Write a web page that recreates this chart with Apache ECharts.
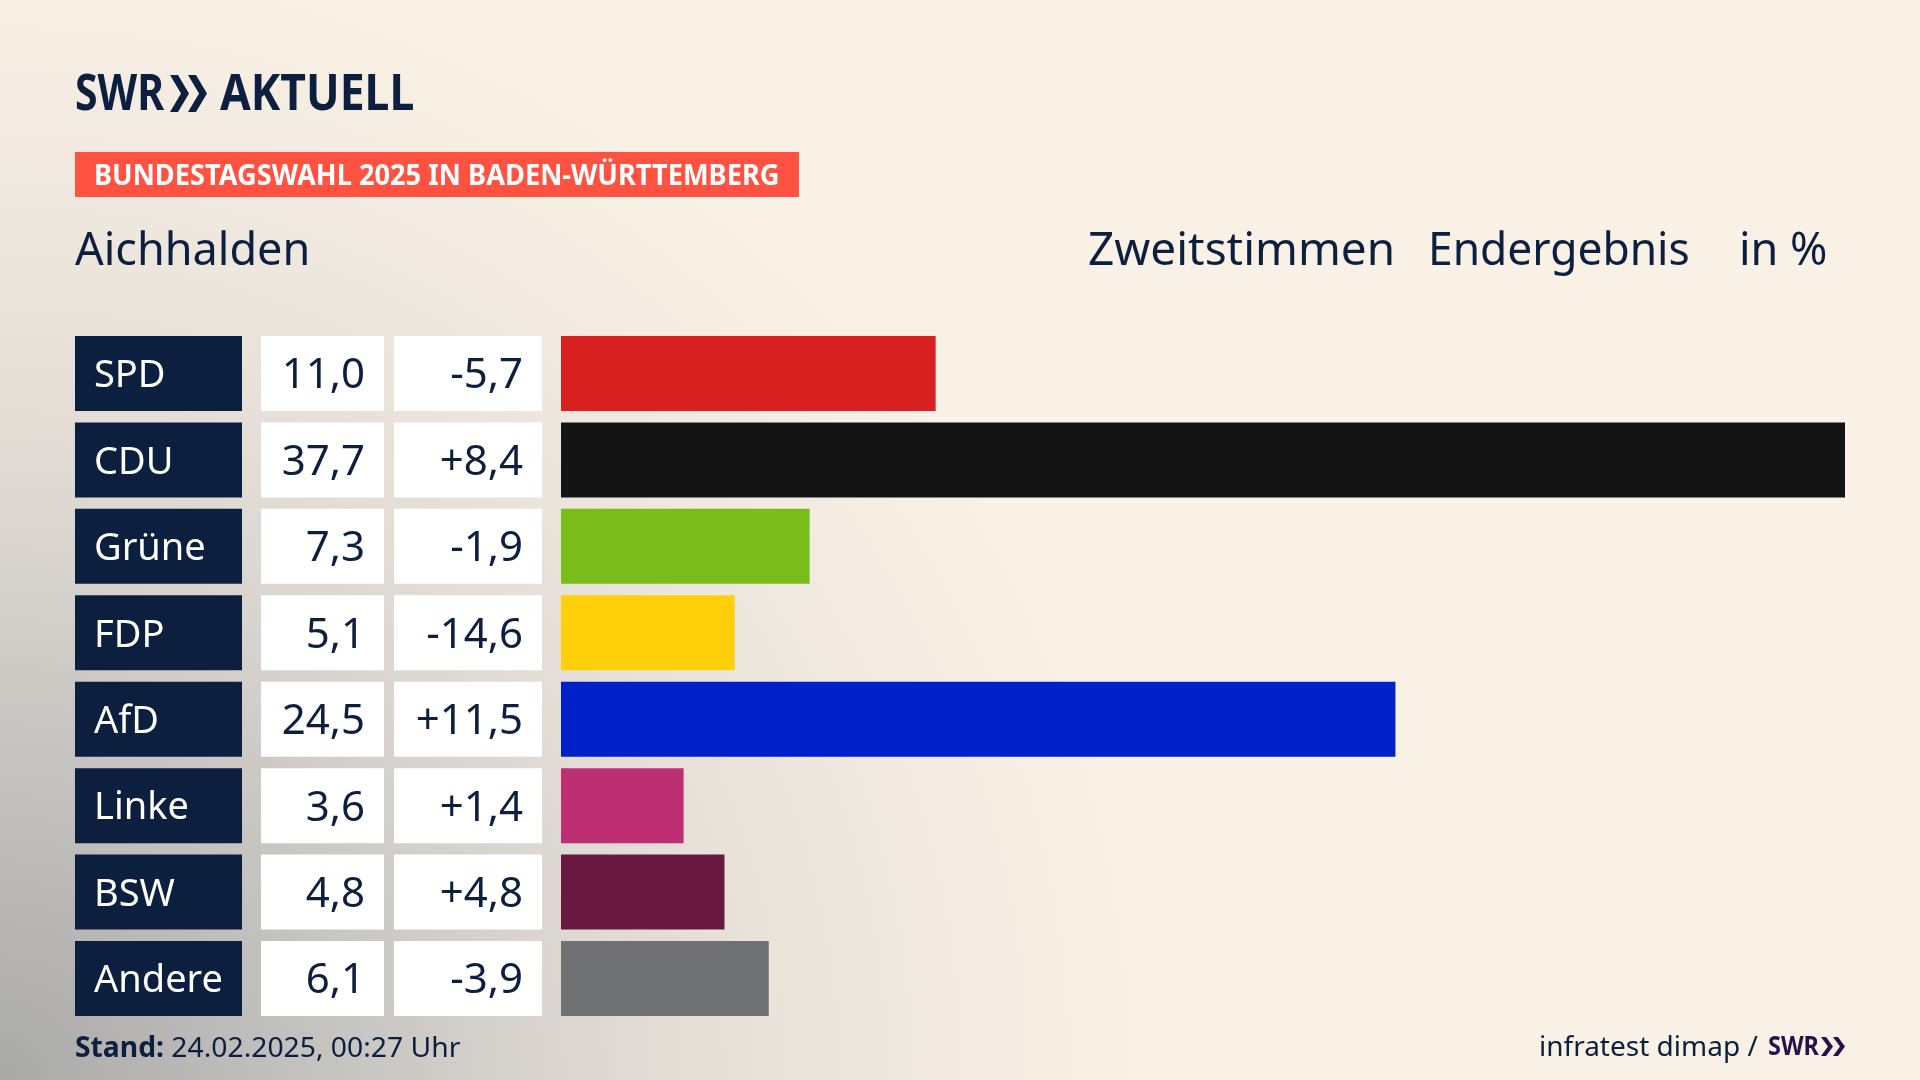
<!DOCTYPE html>
<html>
<head>
<meta charset="utf-8">
<title>Aichhalden</title>
<script src="https://cdn.jsdelivr.net/npm/echarts@6/dist/echarts.min.js"></script>
<style>
html,body{margin:0;padding:0;width:1920px;height:1080px;overflow:hidden;background:#faf1e6}
#chart{width:1920px;height:1080px;
background:radial-gradient(ellipse 1200px 1180px at 0 1080px,#a9a9a8 0%,#c6c4c1 28%,#dcd7d1 48%,#ece5dc 68%,#faf1e6 96%)}
</style>
</head>
<body>
<div id="chart"></div>
<script>
var parties = ['SPD','CDU','Grüne','FDP','AfD','Linke','BSW','Andere'];
var results = [11.0,37.7,7.3,5.1,24.5,3.6,4.8,6.1];
var changes = [-5.7,8.4,-1.9,-14.6,11.5,1.4,4.8,-3.9];
var barColors = ['#d7201f','#141414','#7abd1a','#ffcf0a','#0020c8','#bc2f73','#69193f','#707172'];

var NAVY = '#0c1f3f';
var FONT = '"Noto Sans"';

var chart = echarts.init(document.getElementById('chart'));

function fmt(v){ return v.toFixed(1).replace('.',','); }
function fmtChange(v){ return (v > 0 ? '+' : '') + fmt(v); }

//grid区域: 每行75高, 行距86.43
var gridTop = 330.3, gridHeight = 691.4;
function makeGrid(left,width){ return {left:left,width:width,top:gridTop,height:gridHeight}; }
function makeX(i,max){ return {gridIndex:i,type:'value',min:0,max:max,show:false}; }
function makeY(i){ return {gridIndex:i,type:'category',inverse:true,data:parties,show:false}; }

//左边三列格子
function cellSeries(i,color,textColor,pos,size,formatter){
	return {
		type:'bar',xAxisIndex:i,yAxisIndex:i,barWidth:75,silent:true,animation:false,
		data:parties.map(function(){return 1;}),
		itemStyle:{color:color},
		label:{show:true,position:pos,distance:19,offset:[0,3],color:textColor,fontFamily:FONT,fontSize:size,
			formatter:function(p){return formatter(p.dataIndex);}}
	};
}

//SWR的箭头
function chevron(x,y,w,h,color){
	var t = w*0.42;
	return {type:'polygon',shape:{points:[[x,y],[x+t,y],[x+w,y+h/2],[x+t,y+h],[x,y+h],[x+w-t,y+h/2]]},style:{fill:color}};
}
function headText(text,x,y,size,color,weight,scaleX){
	return {type:'text',x:x,y:y,scaleX:scaleX||1,style:{text:text,fill:color,fontFamily:FONT,fontSize:size,fontWeight:weight||'normal',align:'left',verticalAlign:'middle'}};
}

var option = {
	animation:false,
	grid:[makeGrid(561,1284),makeGrid(75,167),makeGrid(261,123),makeGrid(394,148)],
	xAxis:[makeX(0,37.7),makeX(1,1),makeX(2,1),makeX(3,1)],
	yAxis:[makeY(0),makeY(1),makeY(2),makeY(3)],
	series:[
		{type:'bar',xAxisIndex:0,yAxisIndex:0,barWidth:75,silent:true,animation:false,
			data:results.map(function(v,i){return {value:v,itemStyle:{color:barColors[i]}};})},
		cellSeries(1,NAVY,'#ffffff','insideLeft',38,function(i){return parties[i];}),
		cellSeries(2,'#ffffff',NAVY,'insideRight',42,function(i){return fmt(results[i]);}),
		cellSeries(3,'#ffffff',NAVY,'insideRight',42,function(i){return fmtChange(changes[i]);})
	],
	graphic:[
		headText('SWR',75,96,50,NAVY,'bold',0.82),
		chevron(170,75,19,37,NAVY),
		chevron(188,75,19,37,NAVY),
		headText('AKTUELL',220,96,50,NAVY,'bold',0.89),
		{type:'rect',shape:{x:75,y:152,width:724,height:45},style:{fill:'#ff5240'}},
		headText('BUNDESTAGSWAHL 2025 IN BADEN-WÜRTTEMBERG',94,177,28,'#ffffff','bold',0.972),
		headText('Aichhalden',75,252,45,NAVY),
		headText('Zweitstimmen',1088,252,45,NAVY,'normal',1.02),
		headText('Endergebnis',1428,252,45,NAVY,'normal',0.985),
		headText('in %',1739,252,45,NAVY),
		{type:'text',x:75,y:1049,scaleX:1.01,style:{
			text:'{b|Stand:} 24.02.2025, 00:27 Uhr',fill:NAVY,fontFamily:FONT,fontSize:28,verticalAlign:'middle',
			rich:{b:{fontFamily:FONT,fontSize:28,fontWeight:'bold',fill:NAVY}}}},
		headText('infratest dimap /',1539,1048,28,NAVY),
		headText('SWR',1768,1048,26,'#2a0f4a','bold',0.9),
		chevron(1821,1037,12,19,'#2a0f4a'),
		chevron(1833,1037,12,19,'#2a0f4a')
	]
};
chart.setOption(option);
</script>
</body>
</html>
